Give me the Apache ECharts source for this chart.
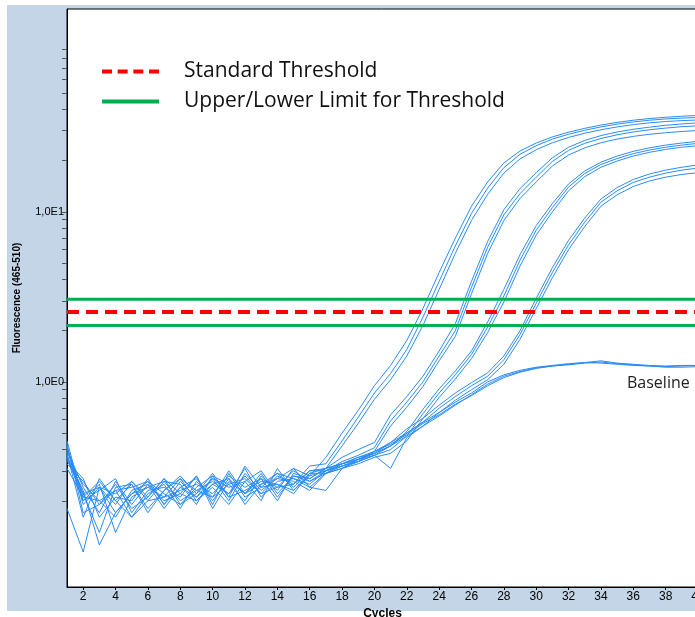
<!DOCTYPE html>
<html><head><meta charset="utf-8">
<script src="https://cdn.jsdelivr.net/npm/echarts@6/dist/echarts.min.js"></script>
<style>html,body{margin:0;padding:0;background:#fff}#c{width:695px;height:617px}</style>
</head><body><div id="c"></div>
<script>
// ---- data ----
const cycles = [1,2,3,4,5,6,7,8,9,10,11,12,13,14,15,16,17,18,19,20,21,22,23,24,25,26,27,28,29,30,31,32,33,34,35,36,37,38,39,40];
const yLabelValues = [1, 10];
const yLabelTexts = ['1,0E0', '1,0E1'];
const yTickValues = [0.2,0.3,0.4,0.5,0.6,0.7,0.8,0.9,1,2,3,4,5,6,7,8,9,10,20,30,40,50,60,70,80,90];
const standardThreshold = 2.58;
const upperLimit = 3.06;
const lowerLimit = 2.15;

const A1 = [0.42,0.19,0.24,0.17,0.22,0.26,0.19,0.24,0.21,0.27,0.20,0.29,0.23,0.27,0.31,0.28,0.36,0.50,0.68,0.95,1.25,1.75,2.7,4.4,7.0,10.8,15.0,19.4,22.8,25.4,27.6,29.4,31.0,32.4,33.6,34.6,35.4,36.0,36.5,36.9];
const A2 = [0.38,0.16,0.27,0.20,0.16,0.22,0.25,0.18,0.26,0.21,0.30,0.22,0.27,0.24,0.25,0.32,0.33,0.45,0.62,0.86,1.12,1.55,2.4,3.9,6.3,9.8,13.8,18.2,21.8,24.5,26.8,28.6,30.2,31.6,32.8,33.8,34.6,35.2,35.6,35.9];
const A3 = [0.35,0.22,0.13,0.24,0.25,0.18,0.23,0.27,0.20,0.24,0.19,0.26,0.30,0.22,0.28,0.27,0.31,0.42,0.57,0.79,1.03,1.42,2.15,3.5,5.7,8.9,12.7,16.9,20.5,23.2,25.5,27.4,29.0,30.4,31.6,32.6,33.4,34.0,34.4,34.7];
const B1 = [0.40,0.24,0.17,0.26,0.19,0.25,0.20,0.22,0.28,0.19,0.29,0.21,0.24,0.29,0.24,0.30,0.31,0.36,0.40,0.44,0.64,0.82,1.08,1.52,2.2,3.9,6.7,10.3,13.7,17.0,20.8,24.0,26.3,28.1,29.5,30.6,31.5,32.3,32.9,33.4];
const B2 = [0.37,0.20,0.25,0.13,0.21,0.24,0.26,0.20,0.23,0.26,0.22,0.31,0.21,0.26,0.27,0.25,0.30,0.34,0.37,0.41,0.59,0.76,1.0,1.42,2.0,3.6,6.2,9.6,12.8,16.0,19.8,23.0,25.3,27.0,28.4,29.5,30.4,31.1,31.7,32.1];
const B3 = [0.33,0.26,0.19,0.23,0.16,0.20,0.26,0.25,0.19,0.28,0.25,0.20,0.28,0.23,0.31,0.24,0.29,0.33,0.35,0.39,0.55,0.71,0.94,1.33,1.85,3.3,5.7,8.9,12.0,15.0,18.6,21.6,23.8,25.5,26.8,27.8,28.6,29.2,29.7,30.1];
const C1 = [0.31,0.21,0.26,0.20,0.25,0.17,0.23,0.28,0.22,0.29,0.21,0.32,0.24,0.25,0.22,0.29,0.31,0.33,0.35,0.38,0.42,0.51,0.69,0.91,1.16,1.52,2.25,3.5,5.6,8.3,11.2,14.6,17.4,19.6,21.3,22.7,23.8,24.7,25.4,26.0];
const C2 = [0.36,0.25,0.20,0.16,0.23,0.25,0.18,0.24,0.27,0.20,0.27,0.22,0.29,0.21,0.28,0.26,0.30,0.32,0.34,0.37,0.40,0.48,0.65,0.86,1.10,1.45,2.1,3.2,5.2,7.8,10.6,14.0,16.8,19.0,20.6,22.0,23.1,24.0,24.7,25.3];
const C3 = [0.43,0.17,0.19,0.25,0.18,0.21,0.27,0.19,0.22,0.27,0.24,0.26,0.20,0.31,0.23,0.29,0.29,0.31,0.33,0.36,0.38,0.45,0.61,0.81,1.04,1.37,1.95,2.95,4.8,7.3,10.0,13.3,16.1,18.3,19.9,21.3,22.4,23.3,24.0,24.5];
const D1 = [0.39,0.22,0.24,0.19,0.26,0.20,0.21,0.23,0.25,0.22,0.28,0.24,0.27,0.20,0.29,0.27,0.31,0.33,0.36,0.39,0.44,0.53,0.61,0.73,0.86,0.99,1.13,1.42,2.0,3.1,4.7,6.8,9.2,11.9,13.9,15.5,16.7,17.6,18.3,18.9];
const D2 = [0.34,0.27,0.16,0.21,0.20,0.27,0.19,0.26,0.21,0.25,0.22,0.28,0.22,0.28,0.25,0.30,0.30,0.32,0.35,0.38,0.42,0.50,0.58,0.70,0.82,0.95,1.08,1.35,1.9,2.9,4.4,6.4,8.7,11.4,13.3,14.9,16.0,16.9,17.6,18.1];
const D3 = [0.45,0.20,0.23,0.27,0.17,0.23,0.24,0.21,0.28,0.18,0.26,0.22,0.25,0.27,0.26,0.23,0.29,0.31,0.34,0.37,0.31,0.47,0.55,0.66,0.78,0.90,1.03,1.27,1.78,2.7,4.1,6.0,8.2,10.8,12.6,14.1,15.2,16.0,16.6,17.0];
const N1 = [0.41,0.21,0.20,0.23,0.24,0.26,0.22,0.19,0.24,0.28,0.21,0.23,0.26,0.25,0.23,0.28,0.30,0.33,0.36,0.38,0.44,0.50,0.58,0.66,0.76,0.86,1.0,1.1,1.17,1.22,1.25,1.28,1.30,1.29,1.27,1.25,1.24,1.23,1.24,1.25];
const N2 = [0.18,0.10,0.24,0.22,0.26,0.21,0.27,0.22,0.20,0.25,0.27,0.19,0.25,0.29,0.27,0.24,0.23,0.31,0.35,0.37,0.42,0.48,0.55,0.63,0.73,0.84,0.97,1.08,1.15,1.21,1.24,1.26,1.29,1.31,1.28,1.26,1.24,1.22,1.22,1.23];
const N3 = [0.36,0.23,0.11,0.17,0.22,0.24,0.21,0.27,0.23,0.21,0.25,0.27,0.22,0.24,0.30,0.26,0.29,0.32,0.34,0.39,0.43,0.49,0.57,0.64,0.74,0.83,0.95,1.06,1.14,1.20,1.24,1.27,1.30,1.33,1.29,1.27,1.25,1.24,1.25,1.25];

const curves = {A1, A2, A3, B1, B2, B3, C1, C2, C3, D1, D2, D3, N1, N2, N3};

// ---- chart ----
const chart = echarts.init(document.getElementById('c'), null, {renderer: 'canvas'});
const curveColor = '#2a8cf5';
const series = Object.keys(curves).map(k => ({
  name: k, type: 'line', data: curves[k], symbol: 'none', silent: true,
  lineStyle: {color: curveColor, width: 1, opacity: 1},
  itemStyle: {color: curveColor}, z: 2
}));
series.push({
  name: 'Upper/Lower Limit for Threshold', type: 'line', data: cycles.map(() => upperLimit),
  symbol: 'none', silent: true, z: 3,
  lineStyle: {color: '#00b050', width: 3}, itemStyle: {color: '#00b050'}
});
series.push({
  name: 'Upper/Lower Limit for Threshold', type: 'line', data: cycles.map(() => lowerLimit),
  symbol: 'none', silent: true, z: 3,
  lineStyle: {color: '#00b050', width: 3}, itemStyle: {color: '#00b050'}
});
series.push({
  name: 'Standard Threshold', type: 'line', data: cycles.map(() => standardThreshold),
  symbol: 'none', silent: true, z: 4,
  lineStyle: {color: '#ff0000', width: 4, type: [12, 7]}, itemStyle: {color: '#ff0000'}
});

const labelMap = {};
yLabelValues.forEach((v, i) => { labelMap[v] = yLabelTexts[i]; });
const evenOnly = (idx) => (cycles[idx] % 2 === 0);

chart.setOption({
  animation: false,
  backgroundColor: '#ffffff',
  graphic: [
    {type: 'rect', z: -10, shape: {x: 7, y: 5, width: 700, height: 606}, style: {fill: '#c3d5e6'}},
    {type: 'text', z: 10, left: 627, top: 375, style: {text: 'Baseline', font: '16px "Open Sans"', fill: '#222'}}
  ],
  grid: {left: 67, top: 9, width: 631, height: 578, outerBoundsMode: 'none', containLabel: false,
    show: true, backgroundColor: '#ffffff', borderColor: '#000', borderWidth: 1},
  legend: {
    data: [
      {name: 'Standard Threshold', lineStyle: {width: 4, color: '#ff0000', type: [10, 5.67]}},
      {name: 'Upper/Lower Limit for Threshold', lineStyle: {width: 4, color: '#00b050', type: 'solid'}}
    ],
    orient: 'vertical', left: 100, top: 61, padding: 0,
    itemWidth: 57, itemHeight: 20, itemGap: 9, selectedMode: false,
    itemStyle: {opacity: 0},
    textStyle: {fontFamily: 'Open Sans', fontSize: 21, color: '#111', padding: [0, 0, 0, 20]}
  },
  xAxis: {
    type: 'category', data: cycles, boundaryGap: false,
    name: 'Cycles', nameLocation: 'middle', nameGap: 21, nameMoveOverlap: false,
    nameTextStyle: {fontFamily: 'Liberation Sans Narrow, Liberation Sans', fontWeight: 'bold', fontSize: 12, color: '#000'},
    axisLine: {lineStyle: {color: '#000', width: 1}},
    axisTick: {interval: evenOnly, length: 3, lineStyle: {color: '#000'}},
    axisLabel: {interval: evenOnly, margin: 4, fontFamily: 'Liberation Sans Narrow, Liberation Sans', fontSize: 12, color: '#000'},
    splitLine: {show: false}
  },
  yAxis: {
    type: 'log', logBase: 10, min: 0.0622, max: 156,
    name: 'Fluorescence (465-510)', nameLocation: 'middle', nameGap: 45, nameRotate: 90,
    nameTextStyle: {fontFamily: 'Liberation Sans', fontWeight: 'bold', fontSize: 10, color: '#000'},
    axisLine: {show: true, lineStyle: {color: '#000', width: 1}},
    axisTick: {show: true, customValues: yTickValues, length: 5, lineStyle: {color: '#555'}},
    axisLabel: {customValues: yLabelValues, margin: 3, fontFamily: 'Liberation Sans', fontSize: 11, color: '#000',
      formatter: v => labelMap[v] !== undefined ? labelMap[v] : ''},
    splitLine: {show: false}, minorTick: {show: false}
  },
  series: series
});
</script>
</body></html>
